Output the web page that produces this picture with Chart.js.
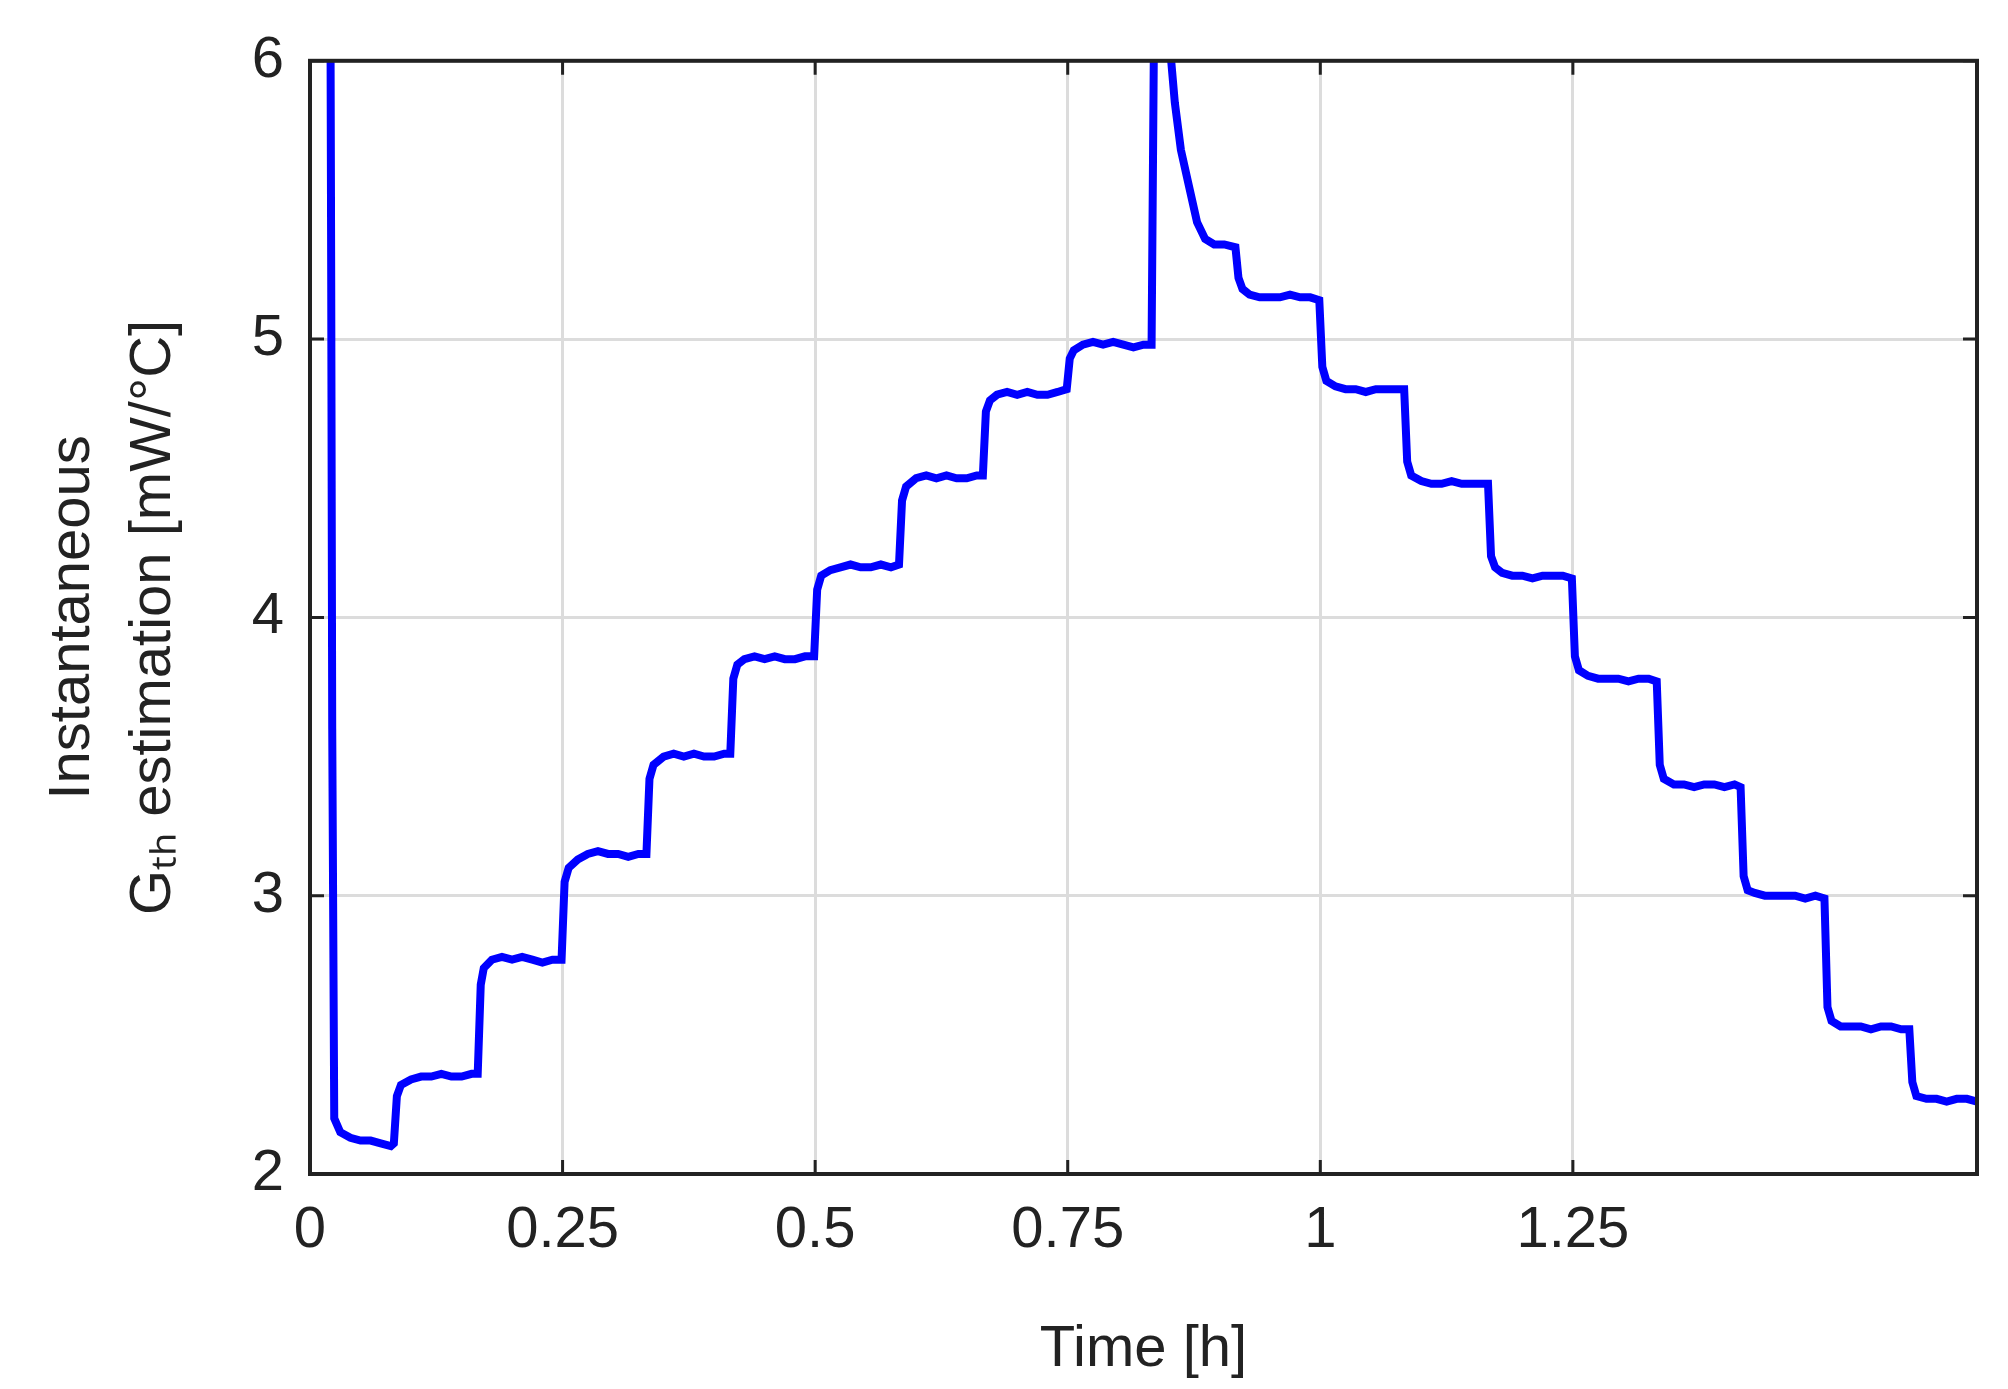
<!DOCTYPE html>
<html>
<head>
<meta charset="utf-8">
<script src="https://cdn.jsdelivr.net/npm/chart.js@4/dist/chart.umd.min.js"></script>
<style>
  html, body { margin: 0; padding: 0; background: #fff; }
  #wrap { width: 2008px; height: 1389px; }
</style>
</head>
<body>
<div id="wrap"><canvas id="gthChart" width="2008" height="1389"></canvas></div>
<script>
// Time [h] and Gth estimate [mW/°C]
const timeH = [
  0.020, 0.021, 0.022, 0.024, 0.030, 0.040, 0.050, 0.060, 0.070, 0.080, 0.083,
  0.086, 0.090, 0.100, 0.110, 0.120, 0.130, 0.140, 0.150, 0.160, 0.166,
  0.169, 0.172, 0.180, 0.190, 0.200, 0.210, 0.220, 0.230, 0.240, 0.249,
  0.252, 0.256, 0.265, 0.275, 0.285, 0.295, 0.305, 0.315, 0.325, 0.333,
  0.336, 0.340, 0.350, 0.360, 0.370, 0.380, 0.390, 0.400, 0.410, 0.416,
  0.419, 0.423, 0.430, 0.440, 0.450, 0.460, 0.470, 0.480, 0.490, 0.499,
  0.502, 0.506, 0.515, 0.525, 0.535, 0.545, 0.555, 0.565, 0.575, 0.583,
  0.586, 0.590, 0.600, 0.610, 0.620, 0.630, 0.640, 0.650, 0.660, 0.666,
  0.669, 0.673, 0.680, 0.690, 0.700, 0.710, 0.720, 0.730, 0.740, 0.749,
  0.752, 0.756, 0.765, 0.775, 0.785, 0.795, 0.805, 0.815, 0.825, 0.833,
  0.836, 0.840, 0.850, 0.856, 0.862, 0.870, 0.878, 0.886, 0.895, 0.905, 0.916,
  0.919, 0.923, 0.930, 0.940, 0.950, 0.960, 0.970, 0.980, 0.990, 0.999,
  1.002, 1.006, 1.015, 1.025, 1.035, 1.045, 1.055, 1.065, 1.075, 1.083,
  1.086, 1.090, 1.100, 1.110, 1.120, 1.130, 1.140, 1.150, 1.160, 1.166,
  1.169, 1.173, 1.180, 1.190, 1.200, 1.210, 1.220, 1.230, 1.240, 1.249,
  1.252, 1.256, 1.265, 1.275, 1.285, 1.295, 1.305, 1.315, 1.325, 1.333,
  1.336, 1.340, 1.350, 1.360, 1.370, 1.380, 1.390, 1.400, 1.410, 1.416,
  1.419, 1.423, 1.430, 1.440, 1.450, 1.460, 1.470, 1.480, 1.490, 1.499,
  1.502, 1.506, 1.515, 1.525, 1.535, 1.545, 1.555, 1.565, 1.575, 1.583,
  1.586, 1.590, 1.600, 1.610, 1.620, 1.630, 1.640, 1.650
];
const gthEst = [
  6.50, 5.20, 3.60, 2.20, 2.15, 2.13, 2.12, 2.12, 2.11, 2.10, 2.11,
  2.28, 2.32, 2.34, 2.35, 2.35, 2.36, 2.35, 2.35, 2.36, 2.36,
  2.68, 2.74, 2.77, 2.78, 2.77, 2.78, 2.77, 2.76, 2.77, 2.77,
  3.05, 3.10, 3.13, 3.15, 3.16, 3.15, 3.15, 3.14, 3.15, 3.15,
  3.42, 3.47, 3.50, 3.51, 3.50, 3.51, 3.50, 3.50, 3.51, 3.51,
  3.78, 3.83, 3.85, 3.86, 3.85, 3.86, 3.85, 3.85, 3.86, 3.86,
  4.10, 4.15, 4.17, 4.18, 4.19, 4.18, 4.18, 4.19, 4.18, 4.19,
  4.42, 4.47, 4.50, 4.51, 4.50, 4.51, 4.50, 4.50, 4.51, 4.51,
  4.74, 4.78, 4.80, 4.81, 4.80, 4.81, 4.80, 4.80, 4.81, 4.82,
  4.93, 4.96, 4.98, 4.99, 4.98, 4.99, 4.98, 4.97, 4.98, 4.98,
  6.40, 6.60, 6.10, 5.85, 5.68, 5.55, 5.42, 5.36, 5.34, 5.34, 5.33,
  5.22, 5.18, 5.16, 5.15, 5.15, 5.15, 5.16, 5.15, 5.15, 5.14,
  4.90, 4.85, 4.83, 4.82, 4.82, 4.81, 4.82, 4.82, 4.82, 4.82,
  4.56, 4.51, 4.49, 4.48, 4.48, 4.49, 4.48, 4.48, 4.48, 4.48,
  4.22, 4.18, 4.16, 4.15, 4.15, 4.14, 4.15, 4.15, 4.15, 4.14,
  3.86, 3.81, 3.79, 3.78, 3.78, 3.78, 3.77, 3.78, 3.78, 3.77,
  3.47, 3.42, 3.40, 3.40, 3.39, 3.40, 3.40, 3.39, 3.40, 3.39,
  3.07, 3.02, 3.01, 3.00, 3.00, 3.00, 3.00, 2.99, 3.00, 2.99,
  2.60, 2.55, 2.53, 2.53, 2.53, 2.52, 2.53, 2.53, 2.52, 2.52,
  2.33, 2.28, 2.27, 2.27, 2.26, 2.27, 2.27, 2.26
];
const yTicks = [2, 3, 4, 5, 6];
const xTickStep = 0.25;

const FONT = '"Liberation Sans", Arial, sans-serif';
const onStep = v => Math.abs(v / xTickStep - Math.round(v / xTickStep)) < 1e-6;

// inward tick marks and the box, like the original figure
const innerTicks = {
  id: 'innerTicks',
  afterDraw(chart) {
    const { ctx, chartArea: a, scales: { x, y } } = chart;
    ctx.save();
    ctx.strokeStyle = '#222';
    ctx.lineWidth = 3;
    x.ticks.forEach(t => {
      if (!onStep(t.value)) return;
      const px = x.getPixelForValue(t.value);
      ctx.beginPath(); ctx.moveTo(px, a.bottom); ctx.lineTo(px, a.bottom - 14);
      ctx.moveTo(px, a.top); ctx.lineTo(px, a.top + 14); ctx.stroke();
    });
    yTicks.forEach(v => {
      const py = y.getPixelForValue(v);
      ctx.beginPath(); ctx.moveTo(a.left, py); ctx.lineTo(a.left + 14, py);
      ctx.moveTo(a.right, py); ctx.lineTo(a.right - 14, py); ctx.stroke();
    });
    ctx.lineWidth = 4;
    ctx.strokeRect(a.left, a.top, a.right - a.left, a.bottom - a.top);
    ctx.restore();
  }
};

const ctx = document.getElementById('gthChart').getContext('2d');
new Chart(ctx, {
  type: 'scatter',
  data: {
    datasets: [{
      data: timeH.map((t, i) => ({ x: t, y: gthEst[i] })),
      showLine: true,
      borderColor: '#0000ff',
      borderWidth: 8,
      pointRadius: 0,
      tension: 0
    }]
  },
  options: {
    responsive: false,
    animation: false,
    clip: 0,
    layout: { padding: { top: 40, right: 31, left: 28, bottom: 0 } },
    plugins: { legend: { display: false }, tooltip: { enabled: false } },
    scales: {
      x: {
        type: 'linear',
        min: 0,
        max: 1.65,
        afterFit: s => { s.height = 215; },
        border: { display: false },
        grid: { color: '#dcdcdc', lineWidth: 3, drawTicks: false },
        ticks: {
          stepSize: xTickStep,
          autoSkip: false,
          maxRotation: 0,
          padding: 22,
          color: '#222',
          font: { family: FONT, size: 58 },
          callback: v => onStep(v) ? String(+v.toFixed(2)) : ''
        },
        title: {
          display: true,
          text: 'Time [h]',
          color: '#222',
          padding: { top: 0 },
          font: { family: FONT, size: 58 }
        }
      },
      y: {
        min: 2,
        max: 6,
        afterFit: s => { s.width = 282; },
        border: { display: false },
        grid: { color: '#dcdcdc', lineWidth: 3, drawTicks: false },
        ticks: {
          stepSize: 1,
          padding: 26,
          color: '#222',
          font: { family: FONT, size: 58 }
        },
        title: {
          display: true,
          text: ['Instantaneous', 'G\u209C\u2095 estimation [mW/\u00B0C]'],
          color: '#222',
          padding: { bottom: 6 },
          font: { family: FONT, size: 58, lineHeight: 1.4 }
        }
      }
    }
  },
  plugins: [innerTicks]
});
</script>
</body>
</html>
